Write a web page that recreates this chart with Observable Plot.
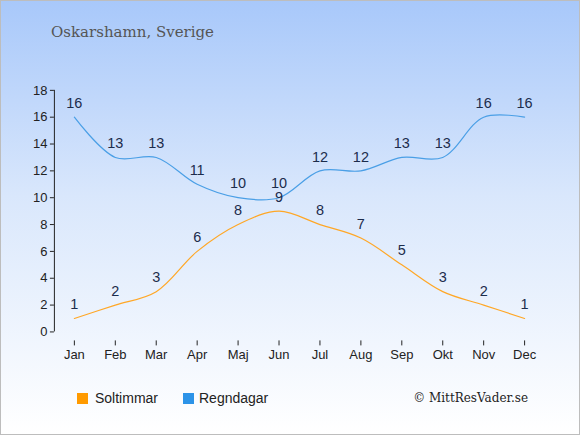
<!DOCTYPE html>
<html>
<head>
<meta charset="utf-8">
<script src="https://cdn.jsdelivr.net/npm/d3@7"></script>
<script src="https://cdn.jsdelivr.net/npm/@observablehq/plot@0.6"></script>
<style>
  html, body { margin: 0; padding: 0; }
  #wrap {
    position: relative; width: 580px; height: 435px; box-sizing: border-box;
    border: 1px solid #bdbdbd;
    background: linear-gradient(to bottom, #a8c8fa 0%, #d9e7fc 45%, #ffffff 100%);
    overflow: hidden;
  }
  #title {
    position: absolute; left: 50px; top: 22px;
    font-family: "DejaVu Serif", "Liberation Serif", serif; font-size: 15px; color: #555;
  }
  #chart { position: absolute; left: -1px; top: -1px; }
  .leg { position: absolute; top: 389px; font-family: "Liberation Sans", Arial, sans-serif; font-size: 14px; color: #222; }
  .sw { display: inline-block; width: 11px; height: 11px; vertical-align: -1px; }
  #copy {
    position: absolute; right: 51px; top: 390px;
    font-family: "DejaVu Serif", "Liberation Serif", serif; font-size: 12px; color: #222;
  }
</style>
</head>
<body>
<div id="wrap">
  <div id="chart"></div>
  <div id="title">Oskarshamn, Sverige</div>
  <div class="leg" style="left:76px"><span class="sw" style="background:#ff9a00;margin-right:7px"></span>Soltimmar</div>
  <div class="leg" style="left:182px"><span class="sw" style="background:#2c93e8;margin-right:5px"></span>Regndagar</div>
  <div id="copy">© MittResVader.se</div>
</div>
<script>
const months = ["Jan","Feb","Mar","Apr","Maj","Jun","Jul","Aug","Sep","Okt","Nov","Dec"];
const soltimmar = [1,2,3,6,8,9,8,7,5,3,2,1];
const regndagar = [16,13,13,11,10,10,12,12,13,13,16,16];
const yTicks = [0,2,4,6,8,10,12,14,16,18];

const sol = months.map((m,i)=>({month:m, value:soltimmar[i]}));
const regn = months.map((m,i)=>({month:m, value:regndagar[i]}));

const chart = Plot.plot({
  width: 580, height: 435,
  marginLeft: 74, marginRight: 55, marginTop: 90, marginBottom: 94,
  style: {background: "transparent", fontFamily: "Liberation Sans, Arial, sans-serif", fontSize: "13px", color: "#222"},
  x: {type: "point", domain: months, padding: 0},
  y: {domain: [0,18], insetBottom: 9},
  marks: [
    Plot.ruleX([months[0]], {y1: 0, y2: 18, dx: -20, stroke: "#222"}),
    Plot.axisY({ticks: yTicks, tickSize: 4, dx: -20, tickPadding: 3, label: null, fontSize: 13}),
    Plot.ruleY([0], {x1: months[0], x2: months[11], dy: 9, stroke: "#222"}),
    Plot.axisX({tickSize: 5, tickPadding: 4, label: null, fontSize: 13}),
    Plot.line(regn, {x: "month", y: "value", stroke: "#4a9fe6", strokeWidth: 1.2, curve: "catmull-rom"}),
    Plot.line(sol, {x: "month", y: "value", stroke: "#ffa726", strokeWidth: 1.2, curve: "catmull-rom"}),
    Plot.text(regn, {x: "month", y: "value", text: "value", dy: -14, fill: "#1c2c4c", fontSize: 14.5}),
    Plot.text(sol, {x: "month", y: "value", text: "value", dy: -14, fill: "#1c2c4c", fontSize: 14.5})
  ]
});
document.getElementById("chart").appendChild(chart);
</script>
</body>
</html>
